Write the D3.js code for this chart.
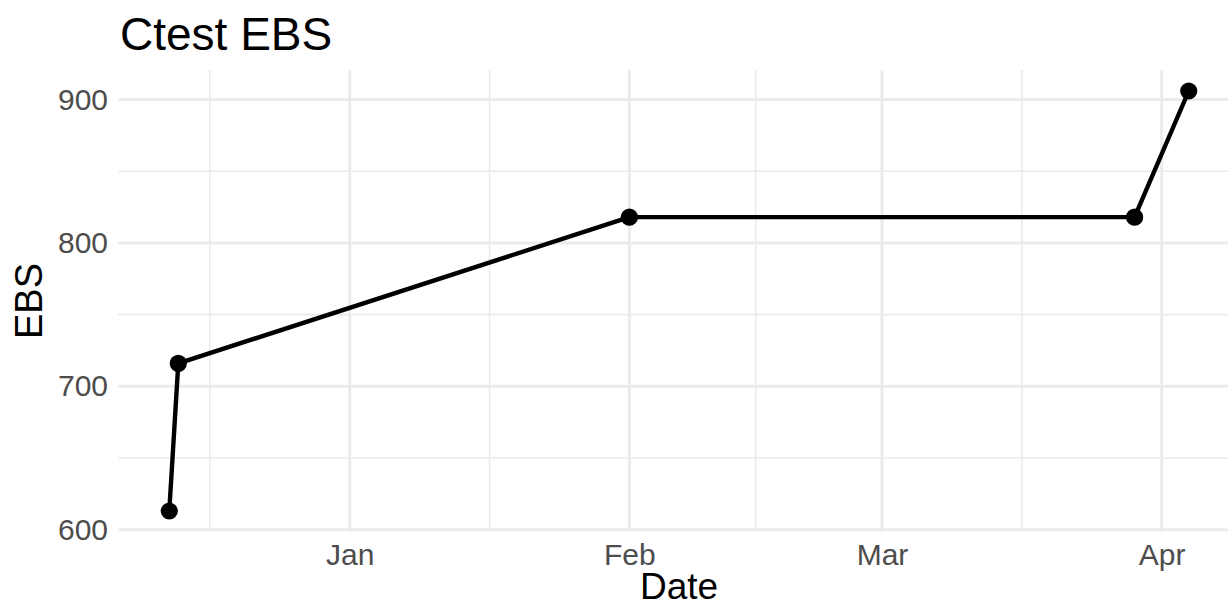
<!DOCTYPE html>
<html><head><meta charset="utf-8">
<script src="https://cdn.jsdelivr.net/npm/d3@7"></script>
<style>
body{margin:0;background:#fff}
svg{display:block}
text{font-family:"Liberation Sans",Arial,Helvetica,sans-serif}
</style>
</head><body>
<svg id="c" width="1228" height="608"></svg>
<script>
// ---- data ----
const dates = ["2022-12-12","2022-12-13","2023-02-01","2023-03-29","2023-04-04"];
const ebs = [613, 716, 818, 818, 906];
const xTickDates = ["2023-01-01","2023-02-01","2023-03-01","2023-04-01"];
const xTickLabels = ["Jan","Feb","Mar","Apr"];
const xMinorDates = ["2022-12-16T12:00","2023-01-16T12:00","2023-02-15T00:00","2023-03-16T12:00"];
const yTicks = [600,700,800,900];
const yMinor = [650,750,850];
const titleText = "Ctest EBS";
const xTitle = "Date";
const yTitle = "EBS";

// ---- layout ----
const W = 1228, H = 608;
const P = {left:118.3, right:1239.7, top:70, bottom:532};
const parse = s => new Date(s + (s.length === 10 ? "T00:00:00Z" : "Z"));
const pts = dates.map((d,i) => ({d: parse(d), v: ebs[i]}));

const xExt = d3.extent(pts, p => +p.d);
const xPad = (xExt[1]-xExt[0])*0.05;
const x = d3.scaleUtc().domain([xExt[0]-xPad, xExt[1]+xPad]).range([P.left, P.right]);
const yExt = d3.extent(pts, p => p.v);
const yPad = (yExt[1]-yExt[0])*0.05;
const y = d3.scaleLinear().domain([yExt[0]-yPad, yExt[1]+yPad]).range([P.bottom, P.top]);

const svg = d3.select("#c");
svg.append("rect").attr("width",W).attr("height",H).attr("fill","#fff");

const grid = svg.append("g");
const gc = "#EBEBEB";
// minor grid
grid.selectAll(".ymn").data(yMinor).join("line")
  .attr("x1",P.left).attr("x2",P.right).attr("y1",d=>y(d)).attr("y2",d=>y(d))
  .attr("stroke",gc).attr("stroke-width",1.6);
grid.selectAll(".xmn").data(xMinorDates.map(parse)).join("line")
  .attr("y1",P.top).attr("y2",P.bottom).attr("x1",d=>x(d)).attr("x2",d=>x(d))
  .attr("stroke",gc).attr("stroke-width",1.6);
// major grid
grid.selectAll(".ymj").data(yTicks).join("line")
  .attr("x1",P.left).attr("x2",P.right).attr("y1",d=>y(d)).attr("y2",d=>y(d))
  .attr("stroke",gc).attr("stroke-width",3);
grid.selectAll(".xmj").data(xTickDates.map(parse)).join("line")
  .attr("y1",P.top).attr("y2",P.bottom).attr("x1",d=>x(d)).attr("x2",d=>x(d))
  .attr("stroke",gc).attr("stroke-width",3);

// axes (labels only)
const xAxis = d3.axisBottom(x).tickValues(xTickDates.map(parse))
  .tickFormat((d,i)=>xTickLabels[i]).tickSize(0).tickPadding(11.5);
const gx = svg.append("g").attr("transform",`translate(0,${P.bottom})`).call(xAxis);
gx.select(".domain").remove();
gx.selectAll("text").attr("font-size",30).attr("fill","#4D4D4D").attr("font-family",null);

const yAxis = d3.axisLeft(y).tickValues(yTicks).tickSize(0).tickPadding(10.3);
const gy = svg.append("g").attr("transform",`translate(${P.left},0)`).call(yAxis);
gy.select(".domain").remove();
gy.selectAll("text").attr("font-size",30).attr("fill","#4D4D4D").attr("font-family",null);

// line + points
svg.append("path").datum(pts)
  .attr("d", d3.line().x(p=>x(p.d)).y(p=>y(p.v)))
  .attr("fill","none").attr("stroke","#000").attr("stroke-width",4.4)
  .attr("stroke-linejoin","round");
svg.selectAll(".pt").data(pts).join("circle")
  .attr("cx",p=>x(p.d)).attr("cy",p=>y(p.v)).attr("r",8.6).attr("fill","#000");

// titles
svg.append("text").attr("x",120).attr("y",50).attr("font-size",46).attr("fill","#000").text(titleText);
svg.append("text").attr("x",(P.left+P.right)/2).attr("y",599).attr("text-anchor","middle")
  .attr("font-size",37).attr("fill","#000").text(xTitle);
svg.append("text").attr("transform",`translate(41.5,${(P.top+P.bottom)/2}) rotate(-90)`)
  .attr("text-anchor","middle").attr("font-size",38).attr("fill","#000").text(yTitle);
</script>
</body></html>
